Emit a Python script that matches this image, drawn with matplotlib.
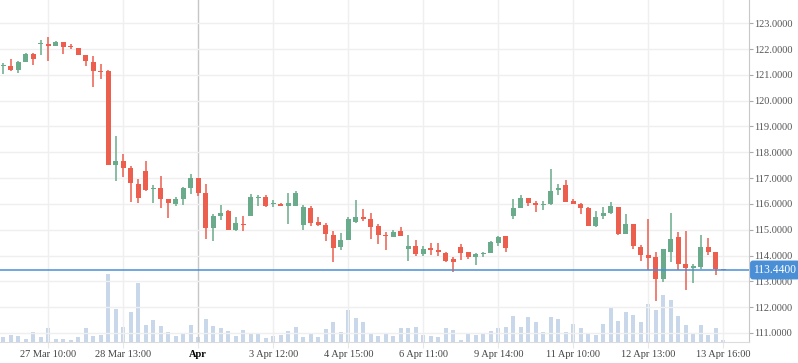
import numpy as np
import matplotlib
matplotlib.use("Agg")
import matplotlib.pyplot as plt
from matplotlib.transforms import blended_transform_factory
from matplotlib.ticker import FormatStrFormatter

plt.rcParams["font.family"] = ["Liberation Serif", "DejaVu Serif"]

# OHLC, one candle per bar
opens = [121.35, 121.35, 121.20, 121.51, 121.82, 122.18, 122.19, 122.13, 122.28, 122.12,
         122.05, 121.78, 121.50, 121.16, 121.16, 117.50, 117.68, 117.41, 116.79, 117.28,
         116.58, 116.62, 116.19, 116.01, 116.20, 116.63, 117.02, 116.43, 115.08, 115.54,
         115.72, 115.00, 115.23, 115.54, 116.22, 116.27, 115.98, 116.00, 115.93, 115.93,
         115.19, 115.84, 115.30, 115.18, 114.80, 114.34, 114.61, 115.31, 115.49, 115.41,
         115.14, 114.80, 114.73, 114.95, 114.27, 114.37, 114.07, 114.27, 114.23, 114.09,
         113.86, 114.32, 114.12, 113.95, 114.05, 114.11, 114.50, 114.76, 115.54, 115.85,
         116.23, 116.05, 115.97, 115.98, 116.54, 116.73, 116.11, 116.00, 115.84, 115.14,
         115.54, 115.65, 115.88, 114.83, 115.22, 114.33, 114.01, 113.93, 113.10, 114.12,
         114.71, 113.66, 113.53, 113.57, 114.33, 114.14, 113.45]
highs = [121.46, 121.63, 121.55, 121.86, 121.86, 122.36, 122.48, 122.32, 122.28, 122.18,
         122.05, 121.78, 121.74, 121.43, 121.19, 118.65, 117.95, 117.45, 116.97, 117.66,
         116.73, 117.08, 116.19, 116.28, 116.67, 117.17, 117.02, 116.76, 115.61, 115.96,
         115.76, 115.49, 115.53, 116.38, 116.35, 116.35, 116.15, 116.03, 116.42, 116.50,
         115.96, 115.92, 115.49, 115.27, 114.96, 114.87, 115.49, 116.15, 115.80, 115.65,
         115.22, 114.91, 114.99, 115.10, 114.80, 114.60, 114.37, 114.48, 114.48, 114.12,
         113.93, 114.43, 114.12, 114.09, 114.15, 114.55, 114.76, 114.76, 116.19, 116.35,
         116.23, 116.11, 116.11, 117.35, 116.77, 116.93, 116.19, 116.03, 115.88, 115.73,
         115.88, 116.08, 115.88, 115.61, 115.22, 114.41, 115.41, 114.14, 114.24, 115.65,
         114.91, 114.95, 113.67, 114.80, 114.68, 114.14, 113.45]
lows = [121.05, 121.16, 121.08, 121.48, 121.39, 121.78, 121.52, 122.10, 121.82, 121.99,
        121.75, 121.33, 120.52, 120.84, 117.50, 116.88, 117.06, 116.06, 116.03, 116.50,
        116.05, 115.85, 115.47, 115.93, 115.97, 116.37, 116.32, 114.64, 114.57, 115.38,
        115.00, 114.95, 114.95, 115.54, 115.93, 115.89, 115.89, 115.93, 115.23, 115.93,
        114.99, 115.16, 115.16, 114.57, 113.76, 114.22, 114.61, 115.27, 115.35, 114.65,
        114.46, 114.22, 114.70, 114.77, 113.80, 113.99, 113.99, 114.03, 113.98, 113.76,
        113.37, 113.83, 113.88, 113.64, 113.95, 114.11, 114.38, 114.14, 115.41, 115.85,
        115.93, 115.69, 115.76, 115.94, 116.36, 116.07, 116.00, 115.61, 115.15, 115.10,
        115.43, 115.61, 114.80, 114.83, 114.26, 113.80, 113.44, 112.25, 112.98, 113.76,
        113.45, 112.67, 112.95, 113.49, 114.02, 113.26, 113.44]
closes = [121.38, 121.20, 121.51, 121.82, 121.63, 122.23, 122.13, 122.28, 122.09, 122.08,
          121.75, 121.52, 121.14, 121.12, 117.50, 117.68, 117.38, 116.80, 116.22, 116.54,
          116.61, 116.20, 116.05, 116.19, 116.62, 117.02, 116.43, 115.08, 115.53, 115.65,
          115.00, 115.26, 115.19, 116.27, 116.27, 115.93, 116.00, 115.93, 116.03, 116.43,
          115.88, 115.27, 115.20, 114.85, 114.30, 114.60, 115.41, 115.49, 115.41, 115.12,
          114.81, 114.76, 114.91, 114.77, 114.37, 114.07, 114.24, 114.23, 114.12, 113.80,
          113.76, 114.11, 113.95, 114.05, 114.09, 114.52, 114.71, 114.30, 115.84, 116.23,
          116.05, 115.97, 116.01, 116.50, 116.62, 116.07, 116.00, 115.85, 115.15, 115.49,
          115.65, 115.92, 114.83, 115.22, 114.38, 114.02, 113.90, 113.10, 114.24, 114.63,
          113.68, 113.53, 113.60, 114.33, 114.15, 113.48, 113.44]
volumes = [14, 20, 18, 9, 30, 15, 42, 9, 9, 6,
           15, 42, 18, 21, 204, 99, 45, 90, 177, 51,
           66, 48, 30, 18, 24, 51, 15, 69, 48, 42,
           33, 18, 36, 27, 27, 12, 18, 21, 33, 45,
           15, 27, 15, 39, 60, 30, 96, 72, 60, 27,
           18, 24, 18, 42, 42, 45, 21, 18, 15, 42,
           36, 6, 24, 21, 24, 33, 42, 45, 78, 45,
           75, 60, 30, 75, 69, 30, 54, 42, 27, 21,
           54, 105, 63, 90, 81, 60, 114, 96, 141, 126,
           78, 51, 24, 51, 21, 42, 6]

tick_pos = [6, 16, 26, 36, 46, 56, 66, 76, 86, 96]
tick_labels = ["27 Mar 10:00", "28 Mar 13:00", "Apr", "3 Apr 12:00", "4 Apr 15:00",
               "6 Apr 11:00", "9 Apr 14:00", "11 Apr 10:00", "12 Apr 13:00", "13 Apr 16:00"]
price_ticks = list(range(111, 124))
last_price = 113.44

up_col = "#6aab8c"
down_col = "#ec5e4e"
line_col = "#4a8fd6"

o = np.array(opens)
h = np.array(highs)
l = np.array(lows)
c = np.array(closes)
idx = np.arange(len(o))
colors = np.where(c >= o, up_col, down_col)

fig = plt.figure(figsize=(7.98, 3.63), dpi=100)
fig.patch.set_facecolor("white")
ax = fig.add_axes([0, 21 / 363, 749 / 798, 342 / 363])
axv = ax.twinx()
ax.set_zorder(axv.get_zorder() + 1)
ax.patch.set_visible(False)

# volume underneath
axv.bar(idx, volumes, width=0.58, color="#c9d7ea", zorder=1)
axv.set_ylim(0, max(volumes) * 342 / 68)
axv.set_yticks([])
for s in axv.spines.values():
    s.set_visible(False)

# candles
ax.vlines(idx, l, h, colors=colors, linewidth=1.1, zorder=3)
body = np.maximum(np.abs(c - o), 0.045)
ax.bar(idx, body, bottom=np.minimum(o, c), width=0.66, color=colors, zorder=4)

ax.axhline(last_price, color=line_col, lw=1.1, zorder=5)

ax.set_xlim(-0.44, 99.43)
ax.set_ylim(110.65, 123.9)
ax.set_xticks(tick_pos)
ax.set_xticklabels(tick_labels)
ax.set_yticks(price_ticks)
ax.yaxis.set_major_formatter(FormatStrFormatter("%.4f"))
ax.yaxis.tick_right()
ax.grid(color="#efefef", lw=1, zorder=0)
ax.xaxis.get_gridlines()[2].set_color("#c6c6c6")

for side in ["top", "left"]:
    ax.spines[side].set_visible(False)
ax.spines["right"].set_color("#c8c8c8")
ax.spines["bottom"].set_color("#dcdcdc")

ax.tick_params(axis="x", length=4, color="#e8e8e8", labelsize=7.5, labelcolor="#444444", pad=2)
ax.tick_params(axis="y", length=3, color="#aaaaaa", labelsize=7.5, labelcolor="#555555", pad=1)
for lab in ax.get_xticklabels():
    if lab.get_text() == "Apr":
        lab.set_fontweight("bold")
        lab.set_color("black")

trans = blended_transform_factory(ax.transAxes, ax.transData)
ax.text(1.006, last_price, "113.4400", transform=trans, va="center", ha="left",
        color="white", fontsize=8.3, clip_on=False, zorder=10,
        bbox=dict(boxstyle="round,pad=0.3,rounding_size=0.25", fc=line_col, ec="none"))

plt.savefig("out.png", dpi=100)
